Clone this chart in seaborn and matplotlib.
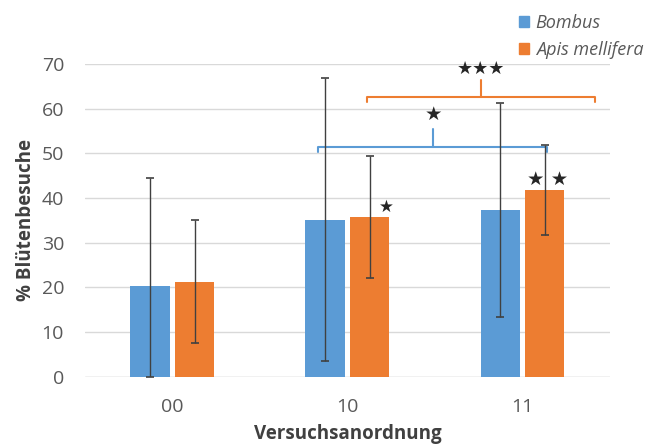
import pandas as pd
import seaborn as sns
import matplotlib.pyplot as plt
from matplotlib.patches import Patch

# values
conditions = ["00", "10", "11"]
species = ["Bombus", "Apis mellifera"]
bombus_mean = [20.4, 35.2, 37.4]
bombus_err_low = [20.4, 31.7, 23.9]
bombus_err_high = [24.1, 31.7, 23.9]
apis_mean = [21.3, 35.8, 41.8]
apis_err_low = [13.7, 13.7, 10.0]
apis_err_high = [13.7, 13.7, 10.0]

blue = "#5B9BD5"
orange = "#ED7D31"
grey = "#595959"

df = pd.DataFrame({
    "cond": conditions * 2,
    "species": [species[0]] * 3 + [species[1]] * 3,
    "value": bombus_mean + apis_mean,
})

sns.set_theme(style="white")
plt.rcParams["font.family"] = ["Open Sans", "DejaVu Sans"]

fig = plt.figure(figsize=(6.68, 4.46), dpi=100)
ax = fig.add_axes([0.127, 0.155, 0.786, 0.7015])

sns.barplot(data=df, x="cond", y="value", hue="species", order=conditions,
            hue_order=species, palette=[blue, orange], width=0.509, gap=0.12,
            saturation=1, linewidth=0, errorbar=None, legend=False, ax=ax)

# error bars at bar centres
errs = [(bombus_err_low, bombus_err_high), (apis_err_low, apis_err_high)]
means = [bombus_mean, apis_mean]
bar_groups = list(ax.containers)
for k, cont in enumerate(bar_groups):
    xs = [p.get_x() + p.get_width() / 2 for p in cont.patches]
    ax.errorbar(xs, means[k], yerr=[errs[k][0], errs[k][1]], fmt="none",
                ecolor="#404040", elinewidth=1.0, capsize=3, capthick=1.2,
                zorder=3)

ax.set_xlim(-0.5, 2.5)
ax.set_ylim(0, 70)
ax.set_yticks(range(0, 71, 10))
ax.grid(axis="y", color="#D9D9D9", linewidth=1)
ax.set_axisbelow(True)
sns.despine(ax=ax, left=True, bottom=True)
ax.axhline(0, color="#D9D9D9", linewidth=1, zorder=0)
ax.tick_params(axis="y", length=0, pad=15, labelsize=14, labelcolor=grey)
ax.tick_params(axis="x", length=0, pad=15, labelsize=14, labelcolor=grey)
ax.set_ylabel("% Blütenbesuche", fontsize=13.5, fontweight="bold",
              color="#404040", labelpad=4)
ax.set_xlabel("Versuchsanordnung", fontsize=13.5, fontweight="bold",
              color="#404040", labelpad=6)

# significance brackets
def bracket(x0, x1, y, xm, ytop, color):
    ax.plot([x0, x0, x1, x1], [y - 1.1, y, y, y - 1.1], color=color,
            linewidth=1.5, clip_on=False)
    ax.plot([xm, xm], [y, ytop], color=color, linewidth=1.5, clip_on=False)

bracket(0.834, 2.143, 51.5, 1.49, 55.5, blue)
bracket(1.114, 2.417, 62.6, 1.766, 66.4, orange)
ax.text(1.49, 58.8, "★", ha="center", va="center", fontsize=14,
        family="DejaVu Sans")
ax.text(1.766, 69.0, "★★★", ha="center", va="center", fontsize=13,
        family="DejaVu Sans")
ax.text(1.223, 38.0, "★", ha="center", va="center", fontsize=12,
        family="DejaVu Sans")
ax.text(2.145, 44.2, "★ ★", ha="center", va="center", fontsize=14,
        family="DejaVu Sans")

handles = [Patch(color=blue), Patch(color=orange)]
leg = fig.legend(handles, species, loc="upper left",
                 bbox_to_anchor=(0.752, 1.005), frameon=False,
                 handlelength=0.6, handleheight=0.6, handletextpad=0.35,
                 labelspacing=0.5, fontsize=13)
for t in leg.get_texts():
    t.set_style("italic")
    t.set_color(grey)

fig.savefig("out.png", dpi=100)
